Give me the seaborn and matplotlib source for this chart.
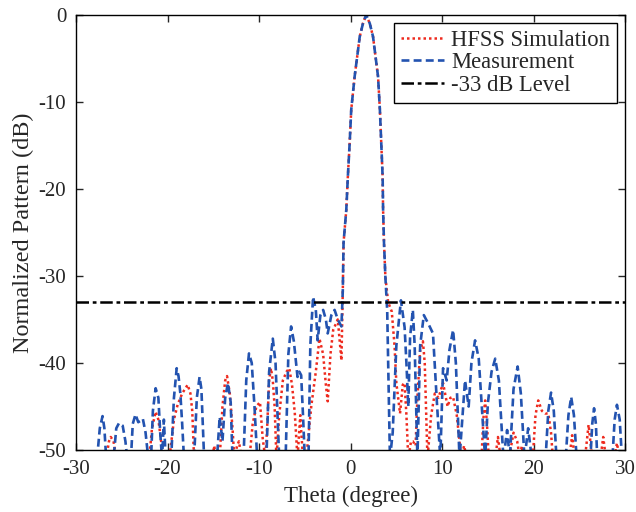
import numpy as np
import pandas as pd
import matplotlib
matplotlib.use("Agg")
import matplotlib.pyplot as plt
import seaborn as sns

# Measurement (blue dashed): theta (deg), normalized pattern (dB)
meas_theta = [-27.7, -27.4, -27.1, -26.9, -26.7,
              -25.9, -25.6, -25.3, -24.9, -24.6, -24.4,
              -24.0, -23.8, -23.5, -23.2, -22.9, -22.7, -22.4, -22.1,
              -21.8, -21.6, -21.3, -21.0, -20.8, -20.6, -20.4, -20.2,
              -19.6, -19.3, -19.0, -18.8, -18.6, -18.4, -18.2,
              -17.1, -16.8, -16.5, -16.3, -16.0,
              -14.6, -14.3, -14.0, -13.7, -13.4, -13.1, -12.9,
              -11.7, -11.4, -11.1, -10.8, -10.5, -10.2,
              -9.2, -8.9, -8.5, -8.2, -7.8,
              -7.1, -6.8, -6.5, -6.2, -5.8, -5.6, -5.4, -5.2, -5.0,
              -4.6, -4.4, -4.1, -3.8, -3.6, -3.3, -3.0, -2.7, -2.5, -2.1, -1.75, -1.4, -1.0,
              -0.85, -0.77, -0.47, -0.3, -0.1, 0.07, 0.44, 1.0, 1.35, 1.7, 2.1, 2.45, 3.0, 3.2,
              3.35, 3.5, 3.55, 3.65, 3.8,
              4.0, 4.2, 4.3, 4.6, 5.0, 5.5, 5.9, 6.1, 6.3, 6.5, 6.8, 7.0, 7.3, 7.6, 8.0, 8.5,
              9.0, 9.4, 9.8, 10.1, 10.5, 10.8, 11.2, 11.5, 11.9, 12.5, 12.9, 13.2, 13.6, 14.0,
              14.4, 14.7, 15.0, 15.4, 15.8, 16.2, 16.7, 17.1, 17.4, 17.8, 18.25, 18.6, 19.0,
              19.4, 19.8, 21.3, 21.6, 21.9, 22.2, 22.5, 23.5, 23.8, 24.1, 24.4, 24.7,
              26.2, 26.4, 26.6, 26.8, 26.95, 28.6, 28.85, 29.1, 29.4, 29.65, 30.0]
meas_db = [-51, -47.5, -46.1, -47.5, -51,
           -51, -47.5, -46.9, -47.2, -49, -51,
           -51, -47, -45.9, -46.8, -46.6, -46.4, -48, -51,
           -51, -45.5, -42.9, -44, -48, -51, -46.5, -51,
           -51, -44, -40.6, -41.5, -43.5, -47, -51,
           -51, -44, -41.6, -43, -51,
           -51, -46.2, -49, -44, -42.3, -44.5, -51,
           -51, -42, -38.9, -40, -45, -51,
           -51, -41, -37.2, -40, -51,
           -51, -39, -35.8, -37.5, -41.6, -41, -41.4, -46, -51,
           -51, -38, -32.4, -33.9, -37.4, -34.5, -33.9, -35, -36.6, -34.5, -33.9, -35, -35.8,
           -31.6, -26.2, -22.4, -18.6, -14.7, -10.9, -7.1, -2.5, -1.0, 0.0, -1.0, -2.5, -7.1, -10.9,
           -14.7, -18.6, -22.4, -26.2, -30.1,
           -34, -45, -51, -48, -38, -32.8, -35.9, -40, -45, -37, -33.9, -38, -51, -38, -34.5, -35.5,
           -36.6, -44, -51, -40.6, -42, -38.5, -36.2, -40, -51, -42, -45, -40, -37.4, -39.5,
           -46, -51, -44.6, -41, -39.5, -42, -51, -47.7, -51, -43, -40.4, -43.5, -51,
           -47.5, -51, -51, -45.5, -43.4, -45.5, -51, -51, -46, -43.9, -46, -51,
           -51, -47, -45.2, -47, -51, -51, -46.5, -44.8, -46.5, -51, -51]

# HFSS simulation (red dotted)
sim_theta = [-26.7, -26.4, -26.2, -25.9, -25.6,
             -22.0, -21.7, -21.3, -21.0, -20.7, -20.4,
             -19.8, -19.3, -18.9, -18.4, -17.8, -17.5, -17.3, -17.1,
             -15.1, -14.9, -14.7,
             -14.3, -14.0, -13.7, -13.5, -13.2, -12.9, -12.7, -12.4, -12.2, -11.9,
             -11.05, -10.7, -10.3, -9.9, -9.6, -9.3,
             -9.1, -8.9, -8.7, -8.5, -8.3, -8.1,
             -7.8, -7.4, -7.0, -6.7, -6.4, -6.1, -5.8, -5.5, -5.2,
             -4.85, -4.3, -3.8, -3.4, -3.0, -2.7, -2.5, -2.2, -1.9, -1.4, -1.0,
             -0.85, -0.77, -0.47, -0.3, -0.1, 0.07, 0.44, 1.0, 1.35, 1.7, 2.1, 2.45, 3.0, 3.2,
             3.35, 3.5, 3.55, 3.65, 3.8,
             4.1, 4.5, 4.8, 5.0, 5.4, 5.7, 5.9, 6.1, 6.3, 6.6, 6.8, 7.1, 7.3, 7.6, 7.9, 8.1,
             8.4, 8.8, 9.2, 9.6, 10.1, 10.6, 10.9, 11.2, 11.6, 12.1, 12.4, 12.7,
             14.3, 14.5, 14.7, 14.9, 15.1, 15.8, 16.1, 16.4, 17.3, 17.8, 18.2, 18.5, 18.7, 19.0,
             19.9, 20.2, 20.5, 20.9, 21.25, 21.6, 21.9, 22.1,
             23.9, 24.2, 24.5, 25.6, 26.0, 26.4, 27.3, 27.6, 27.9, 28.8, 29.1, 29.4, 30.0]
sim_db = [-51, -49, -48.5, -49, -51,
          -51, -47.5, -45.6, -46.5, -49, -51,
          -51, -46.5, -44.8, -43.5, -42.5, -43.5, -45.5, -51,
          -51, -49.5, -51,
          -51, -45, -42, -41.5, -43.5, -47.5, -51, -49.5, -49, -51,
          -51, -47, -45, -44.5, -48.7, -51,
          -47, -42, -40.6, -42, -45, -51,
          -46, -42, -41, -40.6, -42.5, -45.7, -51, -46, -51,
          -51, -45, -41, -37.2, -39, -42.5, -44.4, -39, -36.2, -35, -39.7,
          -31.6, -26.2, -22.4, -18.6, -14.7, -10.9, -7.1, -2.5, -1.0, 0.0, -1.0, -2.5, -7.1, -10.9,
          -14.7, -18.6, -22.4, -26.2, -30.1,
          -33, -34.1, -38, -42.3, -45.8, -42.5, -42.3, -46, -51, -49, -49, -49.5, -44, -38.5, -37.5, -40,
          -51, -46, -43.5, -44, -42.3, -45, -44, -43.9, -46, -51, -49.5, -51,
          -51, -46.5, -44.3, -47, -51, -51, -48.5, -51, -51, -48, -49, -51, -49.5, -51,
          -51, -46, -44.3, -45.5, -45.8, -45.8, -48, -51,
          -51, -48.3, -51, -51, -47.1, -51, -51, -48.5, -51, -51, -49.2, -51, -51]

level_db = -33
x_ticks = [-30, -20, -10, 0, 10, 20, 30]
y_ticks = [-50, -40, -30, -20, -10, 0]

sns.set_style("ticks")
plt.rcParams['font.family'] = ['Liberation Serif', 'DejaVu Serif']

fig = plt.figure(figsize=(6.36, 5.12), dpi=100)
ax = fig.add_axes([0.1195, 0.121, 0.8635, 0.850])

sim_df = pd.DataFrame({"theta": sim_theta, "db": sim_db})
meas_df = pd.DataFrame({"theta": meas_theta, "db": meas_db})

sns.lineplot(data=sim_df, x="theta", y="db", ax=ax, sort=False, estimator=None,
             color="#ee2a1e", linestyle=(0, (1, 1.2)), linewidth=1.8, label="HFSS Simulation")
sns.lineplot(data=meas_df, x="theta", y="db", ax=ax, sort=False, estimator=None,
             color="#2353b0", linestyle=(0, (3.0, 1.6)), linewidth=1.9, label="Measurement")
ax.axhline(level_db, color="black", linestyle=(0, (5, 1.5, 1.5, 1.5)), linewidth=1.8,
           label="-33 dB Level")

ax.set_xlim(-30, 30)
ax.set_ylim(-50, 0)
ax.set_xticks(x_ticks)
ax.set_yticks(y_ticks)
ax.set_xticklabels([str(t) for t in x_ticks])
ax.set_yticklabels([str(t) for t in y_ticks])
ax.tick_params(direction="in", top=True, right=True, labelsize=15, length=5, width=1, pad=7)
for s in ax.spines.values():
    s.set_linewidth(1.0)
    s.set_color("black")

ax.set_xlabel("Theta (degree)", fontsize=16.5, labelpad=5)
ax.set_ylabel("Normalized Pattern (dB)", fontsize=17.5, labelpad=3)

leg = ax.legend(loc="upper right", fontsize=16.3, frameon=True, fancybox=False,
                edgecolor="black", framealpha=1, handlelength=1.9, borderaxespad=0.35,
                borderpad=0.3, labelspacing=0.08, handletextpad=0.35)
leg.get_frame().set_linewidth(1.0)

fig.savefig("out.png", dpi=100)
